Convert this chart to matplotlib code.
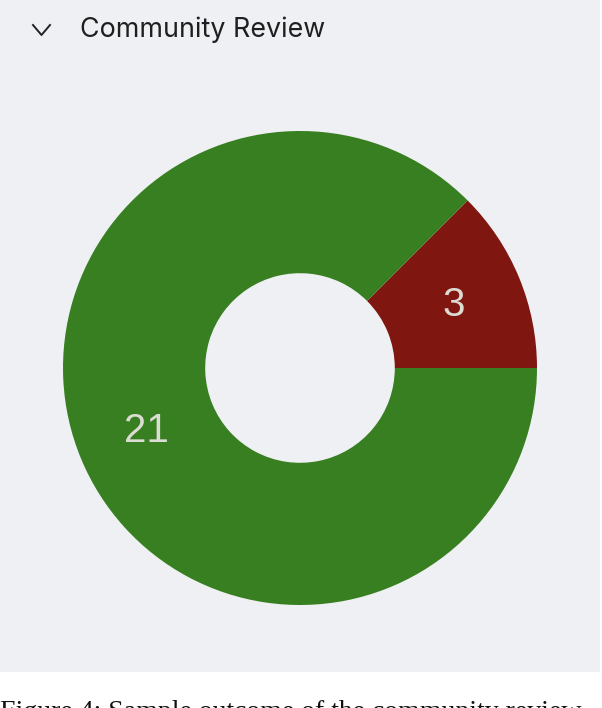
import matplotlib
matplotlib.use('Agg')
import matplotlib.pyplot as plt
from matplotlib.patches import Rectangle
from matplotlib.lines import Line2D

# dados do grafico
valores = [3, 21]
rotulos = ['3', '21']
cores = ['#7f1710', '#387f21']

W, H = 602, 708
fig = plt.figure(figsize=(W / 100, H / 100), dpi=100)
fig.patch.set_facecolor('white')

# painel cinza de fundo
fig.add_artist(Rectangle((0, 1 - 672 / H), 600 / W, 672 / H,
                         transform=fig.transFigure, facecolor='#eff0f4',
                         edgecolor='none', zorder=0))

# cabecalho com seta
fig.add_artist(Line2D([33 / W, 41.5 / W, 50 / W],
                      [1 - 25 / H, 1 - 35 / H, 1 - 25 / H],
                      transform=fig.transFigure, color='#222222', lw=1.4))
fig.text(80 / W, 1 - 30 / H, 'Community Review', fontsize=19.3,
         family='Inter', color='#1f1f1f', va='center', ha='left')

# rosca
cx, cy, r = 300, 368, 237
ax = fig.add_axes([(cx - r) / W, 1 - (cy + r) / H, 2 * r / W, 2 * r / H])
ax.set_facecolor('none')
wedges, texts = ax.pie(valores, labels=rotulos, colors=cores, startangle=0,
                       counterclock=True, radius=1, labeldistance=0.7,
                       wedgeprops=dict(width=0.6, edgecolor='none', antialiased=True),
                       textprops=dict(color='#dcdcd4', fontsize=29, family='Liberation Sans'))
for t in texts:
    t.set_ha('center')
    t.set_va('center')
ax.set_xlim(-1, 1)
ax.set_ylim(-1, 1)
ax.set_aspect('equal')
ax.axis('off')

# legenda da figura (cortada embaixo, como no original)
fig.text(0, 1 - 700 / H, 'Figure 4: Sample outcome of the community review',
         fontsize=20, family='Liberation Serif', color='#111111',
         va='top', ha='left')

plt.savefig('out.png', dpi=100)
